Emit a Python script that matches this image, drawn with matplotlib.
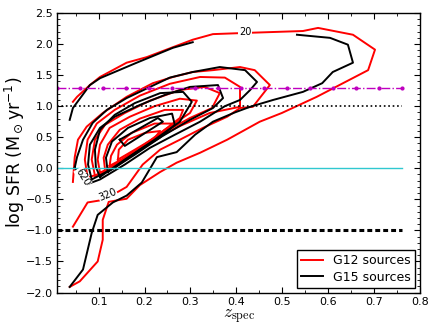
import numpy as np
import matplotlib
matplotlib.use('Agg')
import matplotlib.pyplot as plt
from matplotlib.ticker import MultipleLocator

# contour paths (z_spec, log SFR)
# G12 (red)
g12_z = [
    [0.037, 0.059, 0.098, 0.109, 0.109, 0.122, 0.161, 0.190, 0.234, 0.270, 0.321, 0.380, 0.451, 0.499,
     0.575, 0.687, 0.702, 0.654, 0.578, 0.545, 0.423, 0.349, 0.305, 0.262, 0.205, 0.161, 0.103, 0.081,
     0.053, 0.044],
    [0.044, 0.076, 0.109, 0.142, 0.161, 0.196, 0.234, 0.277, 0.327, 0.380, 0.408, 0.436, 0.473, 0.440,
     0.408, 0.349, 0.305, 0.262, 0.218, 0.161, 0.109, 0.074, 0.055, 0.048, 0.044],
    [0.076, 0.114, 0.146, 0.212, 0.277, 0.342, 0.408, 0.408, 0.375, 0.321, 0.255, 0.190, 0.135, 0.096,
     0.076, 0.070, 0.076],
    [0.092, 0.124, 0.157, 0.233, 0.299, 0.347, 0.364, 0.331, 0.277, 0.212, 0.157, 0.114, 0.092, 0.085, 0.092],
    [0.103, 0.135, 0.179, 0.244, 0.299, 0.314, 0.277, 0.222, 0.168, 0.124, 0.103, 0.098, 0.103],
    [0.114, 0.146, 0.190, 0.244, 0.277, 0.284, 0.244, 0.190, 0.146, 0.120, 0.111, 0.114],
    [0.124, 0.157, 0.201, 0.244, 0.260, 0.222, 0.172, 0.140, 0.127, 0.124],
    [0.142, 0.179, 0.222, 0.234, 0.201, 0.164, 0.144, 0.142],
]
g12_sfr = [
    [-1.91, -1.82, -1.50, -1.15, -0.83, -0.54, -0.49, -0.27, -0.06, 0.09, 0.25, 0.46, 0.75, 0.89,
     1.15, 1.58, 1.91, 2.15, 2.26, 2.21, 2.18, 2.16, 2.07, 1.95, 1.79, 1.70, 1.47, 1.34,
     1.15, 1.07],
    [-0.94, -0.55, -0.51, -0.38, -0.30, 0.06, 0.30, 0.46, 0.65, 0.83, 0.97, 0.99, 1.34, 1.58,
     1.63, 1.58, 1.55, 1.47, 1.37, 1.15, 0.89, 0.67, 0.46, 0.18, -0.22],
    [-0.15, -0.06, 0.10, 0.43, 0.68, 0.89, 0.99, 1.31, 1.46, 1.47, 1.36, 1.17, 0.94, 0.72,
     0.46, 0.14, -0.15],
    [-0.12, -0.02, 0.17, 0.54, 0.81, 0.97, 1.21, 1.31, 1.26, 1.09, 0.89, 0.70, 0.46, 0.14, -0.12],
    [-0.07, 0.04, 0.27, 0.62, 0.89, 1.09, 1.12, 1.00, 0.83, 0.65, 0.38, 0.14, -0.07],
    [-0.02, 0.10, 0.30, 0.62, 0.81, 0.94, 0.94, 0.80, 0.62, 0.38, 0.17, -0.02],
    [0.04, 0.17, 0.38, 0.59, 0.72, 0.72, 0.57, 0.38, 0.20, 0.04],
    [0.14, 0.30, 0.49, 0.60, 0.57, 0.46, 0.30, 0.14],
]

# G15 (black)
g15_z = [
    [0.037, 0.066, 0.085, 0.098, 0.131, 0.161, 0.194, 0.227, 0.270, 0.310, 0.349, 0.397, 0.430, 0.480,
     0.545, 0.587, 0.610, 0.654, 0.643, 0.604, 0.532],
    [0.037, 0.044, 0.081, 0.103, 0.183, 0.262, 0.305],
    [0.048, 0.053, 0.066, 0.087, 0.118, 0.161, 0.212, 0.255, 0.305, 0.364, 0.419, 0.445, 0.430, 0.408,
     0.375, 0.321, 0.266, 0.212, 0.157, 0.103, 0.070, 0.048],
    [0.085, 0.135, 0.190, 0.244, 0.299, 0.349, 0.371, 0.360, 0.299, 0.244, 0.190, 0.135, 0.103, 0.081,
     0.077, 0.085],
    [0.103, 0.157, 0.222, 0.277, 0.303, 0.284, 0.234, 0.179, 0.135, 0.103, 0.092, 0.094, 0.103],
    [0.120, 0.179, 0.233, 0.266, 0.260, 0.212, 0.164, 0.129, 0.116, 0.120],
    [0.146, 0.157, 0.240, 0.229, 0.146],
]
g15_sfr = [
    [-1.91, -1.63, -1.04, -0.75, -0.55, -0.44, -0.23, 0.18, 0.26, 0.54, 0.75, 0.90, 0.99, 1.10,
     1.23, 1.37, 1.55, 1.70, 1.99, 2.10, 2.15],
    [0.78, 0.97, 1.34, 1.45, 1.70, 1.94, 2.03],
    [0.01, 0.18, 0.46, 0.73, 0.94, 1.13, 1.31, 1.46, 1.55, 1.63, 1.58, 1.39, 1.26, 1.10,
     1.00, 0.75, 0.54, 0.33, 0.06, -0.18, -0.27, 0.01],
    [-0.18, 0.01, 0.30, 0.54, 0.78, 0.97, 1.13, 1.34, 1.31, 1.18, 1.02, 0.83, 0.65, 0.38,
     0.06, -0.18],
    [-0.14, 0.14, 0.46, 0.75, 1.07, 1.23, 1.21, 1.05, 0.86, 0.62, 0.30, 0.02, -0.14],
    [-0.06, 0.22, 0.49, 0.70, 0.88, 0.81, 0.65, 0.43, 0.17, -0.06],
    [0.46, 0.36, 0.75, 0.81, 0.46],
]

# contour labels
clab_text = ['20', '320', '620']
clab_z = [0.419, 0.120, 0.066]
clab_sfr = [2.20, -0.43, -0.14]
clab_rot = [0, 22, -58]

# reference lines
ref_z = [0.01, 0.06, 0.11, 0.16, 0.21, 0.26, 0.31, 0.36, 0.41, 0.46, 0.51, 0.56, 0.61, 0.66, 0.71, 0.76]
sfr_zero = 0.0
sfr_dotted = 1.0
sfr_magenta = 1.3
sfr_dashed = -1.0

fig = plt.figure(figsize=(4.36, 3.3), dpi=100)
ax = fig.add_axes([0.1314, 0.1136, 0.8319, 0.847])

for i in range(len(g12_z)):
    ax.plot(g12_z[i], g12_sfr[i], color='red', lw=1.4, label='G12 sources' if i == 0 else None)
for i in range(len(g15_z)):
    ax.plot(g15_z[i], g15_sfr[i], color='black', lw=1.4, label='G15 sources' if i == 0 else None)

for t, zz, ss, r in zip(clab_text, clab_z, clab_sfr, clab_rot):
    ax.text(zz, ss, t, fontsize=7, rotation=r, ha='center', va='center',
            bbox=dict(facecolor='white', edgecolor='none', pad=0.3))

ax.plot([ref_z[0], ref_z[-1]], [sfr_zero, sfr_zero], color='#30c8d0', lw=1.0)
ax.plot([ref_z[0], ref_z[-1]], [sfr_dotted, sfr_dotted], color='k', ls=':', lw=1.2)
ax.plot(ref_z, [sfr_magenta] * len(ref_z), color='m', ls='-.', lw=1.0, marker='.', ms=4)
ax.plot([ref_z[0], ref_z[-1]], [sfr_dashed, sfr_dashed], color='k', lw=2.2, dashes=(1.6, 1.0))

ax.set_xlim(0.01, 0.8)
ax.set_ylim(-2.0, 2.5)
ax.xaxis.set_major_locator(MultipleLocator(0.1))
ax.xaxis.set_minor_locator(MultipleLocator(0.05))
ax.yaxis.set_major_locator(MultipleLocator(0.5))
ax.yaxis.set_minor_locator(MultipleLocator(0.1))
ax.tick_params(which='both', direction='in', top=True, right=True, labelsize=8)
ax.tick_params(which='major', length=4, pad=3)
ax.tick_params(which='minor', length=2)
for sp in ax.spines.values():
    sp.set_linewidth(1.0)

ax.set_xlabel(r'$z_{\rm spec}$', fontsize=12.5, math_fontfamily='cm', labelpad=0.5)
ax.set_ylabel(r'log SFR (M$_\odot$yr$^{-1}$)', fontsize=12.5, labelpad=0)
ax.yaxis.set_label_coords(-0.083, 0.5)

leg = ax.legend(loc='lower right', fontsize=9, fancybox=False, framealpha=1,
                handlelength=1.8, borderpad=0.3, labelspacing=0.3, borderaxespad=0.4)
leg.get_frame().set_edgecolor('black')

fig.savefig('out.png', dpi=100)
